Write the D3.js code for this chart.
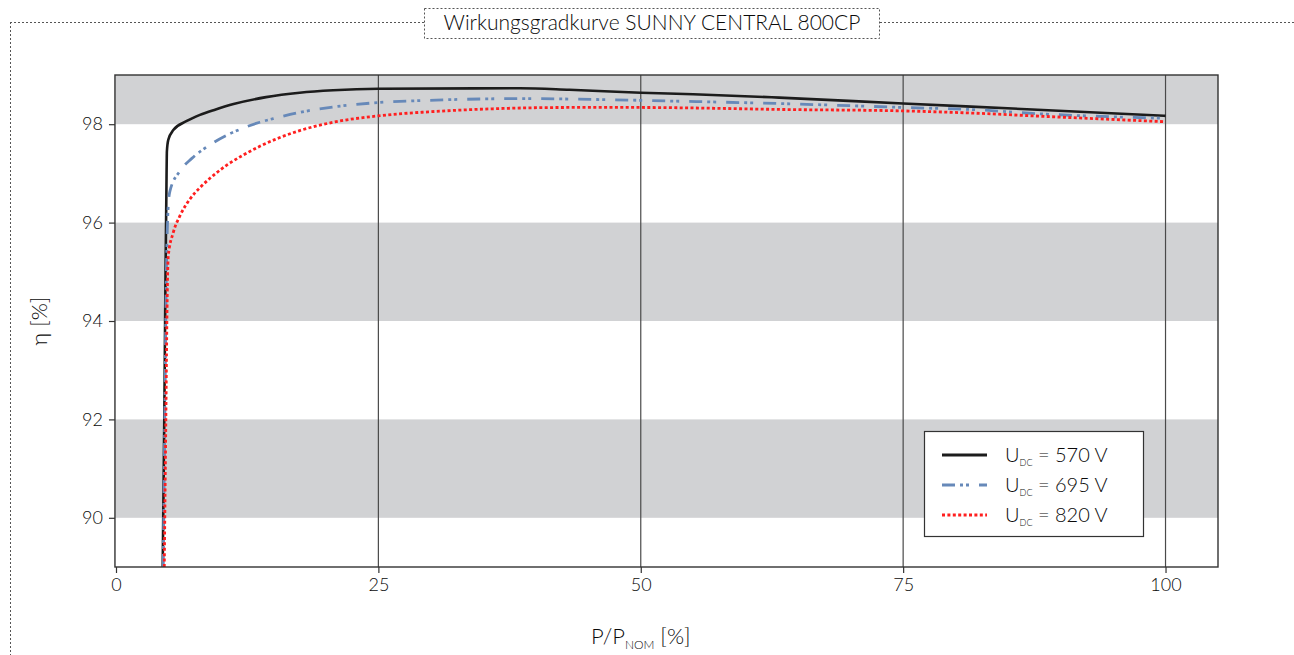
<!DOCTYPE html>
<html>
<head>
<meta charset="utf-8">
<script src="https://cdn.jsdelivr.net/npm/d3@7"></script>
<style>
  body { margin: 0; background: #fff; }
  svg text { font-family: Lato, "Open Sans", sans-serif; font-weight: 300; fill: #0a0a0a; }
</style>
</head>
<body>
<div id="chart"></div>
<script>
// Wirkungsgradkurve - Werte

const titel = "Wirkungsgradkurve SUNNY CENTRAL 800CP"
const xTicks = [0, 25, 50, 75, 100]
const yTicks = [90, 92, 94, 96, 98]
const grauBaender = [[90, 92], [94, 96], [98, 99]]
const gridX = [25, 50, 75, 100]

const spannungen = ["570", "695", "820"]

// [P/Pnom %, eta %]
const kurve570 = [[4.45, 89], [4.6, 92], [4.72, 95], [4.8, 96.6], [4.85, 97.45], [4.98, 97.68], [5.46, 97.88], [6.7, 98.06],
  [8, 98.19], [9.5, 98.30], [11.2, 98.41], [14.3, 98.55], [17.5, 98.64], [20.7, 98.69], [25, 98.72], [38.5, 98.73],
  [43.2, 98.70], [50, 98.64], [55, 98.61], [63.2, 98.54], [75, 98.42], [87.3, 98.30], [100, 98.17]]
const kurve695 = [[4.5, 89], [4.65, 92], [4.8, 95], [4.88, 95.8], [4.98, 96.35], [5.14, 96.64], [6.1, 97.05], [7.2, 97.30],
  [8.95, 97.58], [10.5, 97.77], [12.1, 97.92], [13.7, 98.04], [15.3, 98.13], [17.5, 98.24], [20.7, 98.35], [25, 98.44],
  [30.5, 98.49], [38.5, 98.52], [46.4, 98.50], [53, 98.47], [63.2, 98.42], [75, 98.34], [82.3, 98.29], [87.3, 98.22],
  [100, 98.12]]
const kurve820 = [[4.6, 89], [4.75, 92], [4.88, 94.5], [4.98, 95.32], [5.46, 95.80], [6.1, 96.14], [7.05, 96.48],
  [8.0, 96.71], [8.95, 96.90], [10.5, 97.16], [12.1, 97.37], [13.7, 97.55], [15.5, 97.72], [17.5, 97.87], [20.7, 98.04],
  [25, 98.17], [30.5, 98.26], [36.9, 98.32], [43.2, 98.34], [50, 98.34], [55, 98.33], [63.2, 98.30], [75, 98.27],
  [82.3, 98.22], [87.3, 98.17], [100, 98.05]]

const kurven = [kurve570, kurve695, kurve820]
const farben = ["#1c1c1c", "#6789b9", "#ff1f1f"]
const striche = [null, "13,5,3,3,3,10", "3,2.4"]

const breite = 1294
const hoehe = 655
const margins = { top: 75, right: 76, bottom: 88, left: 116 }

const svg = d3.select("#chart").append("svg")
  .attr("width", breite)
  .attr("height", hoehe)

const x = d3.scaleLinear().domain([0, 105]).range([margins.left, breite - margins.right])
const y = d3.scaleLinear().domain([89, 99]).range([hoehe - margins.bottom, margins.top])

// Rahmen oben / links (gestrichelt)
const rahmenFarbe = "#555"
svg.append("line").attr("x1", 10).attr("x2", 424).attr("y1", 22.5).attr("y2", 22.5)
  .attr("stroke", rahmenFarbe).attr("stroke-dasharray", "2,2")
svg.append("line").attr("x1", 880).attr("x2", breite).attr("y1", 22.5).attr("y2", 22.5)
  .attr("stroke", rahmenFarbe).attr("stroke-dasharray", "2,2")
svg.append("line").attr("x1", 10.5).attr("x2", 10.5).attr("y1", 22).attr("y2", hoehe)
  .attr("stroke", rahmenFarbe).attr("stroke-dasharray", "2,2")
svg.append("rect").attr("x", 424.5).attr("y", 8.5).attr("width", 455).attr("height", 30)
  .attr("fill", "#fff").attr("stroke", rahmenFarbe).attr("stroke-dasharray", "2,2")
svg.append("text").attr("x", 652).attr("y", 30).attr("text-anchor", "middle")
  .attr("font-size", 21).text(titel)

// graue Baender
svg.append("g").selectAll("rect").data(grauBaender).join("rect")
  .attr("x", x(-0.1)).attr("width", x(105) - x(-0.1))
  .attr("y", d => y(d[1])).attr("height", d => y(d[0]) - y(d[1]))
  .attr("fill", "#d1d2d4")

// vertikale Gitterlinien
svg.append("g").selectAll("line").data(gridX).join("line")
  .attr("x1", d => x(d)).attr("x2", d => x(d))
  .attr("y1", y(99)).attr("y2", y(89))
  .attr("stroke", "#4a4a4a").attr("stroke-width", 1.2)

// Kurven
const linie = d3.line().x(d => x(d[0])).y(d => y(d[1])).curve(d3.curveMonotoneX)
svg.append("g").selectAll("path").data(kurven).join("path")
  .attr("d", linie)
  .attr("fill", "none")
  .attr("stroke", (d, i) => farben[i])
  .attr("stroke-width", (d, i) => i == 0 ? 2.6 : 2.8)
  .attr("stroke-dasharray", (d, i) => striche[i])

// Plotrahmen
svg.append("rect")
  .attr("x", x(-0.1)).attr("y", y(99))
  .attr("width", x(105) - x(-0.1)).attr("height", y(89) - y(99))
  .attr("fill", "none").attr("stroke", "#333").attr("stroke-width", 1.4)

// Achsen
const xAchse = svg.append("g").attr("transform", `translate(0,${y(89)})`)
  .call(d3.axisBottom(x).tickValues(xTicks).tickSize(6).tickPadding(5))
const yAchse = svg.append("g").attr("transform", `translate(${x(-0.1)},0)`)
  .call(d3.axisLeft(y).tickValues(yTicks).tickSize(6).tickPadding(6))
;[xAchse, yAchse].forEach(a => {
  a.select(".domain").remove()
  a.selectAll(".tick line").attr("stroke", "#333").attr("stroke-width", 1.2)
  a.selectAll(".tick text").attr("font-size", 18).attr("font-family", "Lato, sans-serif").attr("fill", "#0a0a0a")
})

// Achsenbeschriftung
const xLabel = svg.append("text").attr("x", x(50)).attr("y", 644).attr("text-anchor", "middle").attr("font-size", 22)
xLabel.append("tspan").text("P/P")
xLabel.append("tspan").attr("font-size", 12).attr("dy", 5).text("NOM")
xLabel.append("tspan").attr("dy", -5).text(" [%]")

svg.append("text")
  .attr("transform", `translate(47,${y(94)}) rotate(-90)`)
  .attr("text-anchor", "middle").attr("font-size", 22)
  .text("η [%]")

// Legende
const leg = svg.append("g").attr("transform", "translate(924,431)")
leg.append("rect").attr("x", 0.5).attr("y", 0.5).attr("width", 219).attr("height", 105)
  .attr("fill", "#fff").attr("stroke", "#333").attr("stroke-width", 1.2)
const eintraege = leg.selectAll("g.e").data(spannungen).join("g")
  .attr("class", "e")
  .attr("transform", (d, i) => `translate(0,${24 + i * 30})`)
eintraege.append("line").attr("x1", 18).attr("x2", 63).attr("y1", 0).attr("y2", 0)
  .attr("stroke", (d, i) => farben[i]).attr("stroke-width", 2.8)
  .attr("stroke-dasharray", (d, i) => striche[i])
const lt = eintraege.append("text").attr("x", 81).attr("y", 7).attr("font-size", 20)
lt.append("tspan").text("U")
lt.append("tspan").attr("font-size", 9).attr("dy", 4).text("DC")
lt.append("tspan").attr("dy", -4).text(d => ` = ${d} V`)
</script>
</body>
</html>
